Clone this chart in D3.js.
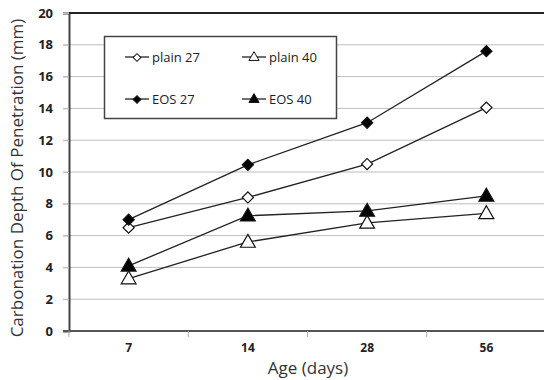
<!DOCTYPE html>
<html>
<head>
<meta charset="utf-8">
<script src="https://cdn.jsdelivr.net/npm/d3@7"></script>
<style>
  body { margin: 0; background: #fff; }
  text { font-family: 'Open Sans', 'Noto Sans', sans-serif; }
</style>
</head>
<body>
<svg id="chart" width="544" height="380"></svg>
<script>
const ages = ['7', '14', '28', '56'];
const yTicks = [0, 2, 4, 6, 8, 10, 12, 14, 16, 18, 20];
const plain27 = [6.5, 8.4, 10.5, 14.05];
const plain40 = [3.3, 5.6, 6.8, 7.4];
const eos27 = [7.0, 10.45, 13.1, 17.6];
const eos40 = [4.1, 7.25, 7.55, 8.5];

const series = [
  { name: 'plain 27', values: plain27, shape: 'diamond', fill: '#fff' },
  { name: 'plain 40', values: plain40, shape: 'triangle', fill: '#fff' },
  { name: 'EOS 27', values: eos27, shape: 'diamond', fill: '#000' },
  { name: 'EOS 40', values: eos40, shape: 'triangle', fill: '#000' },
];

const svg = d3.select('#chart');
const plotLeft = 69;
const plotRight = 546;
const plotTop = 13;
const plotBottom = 331;

const x = d3.scaleBand().domain(ages).range([plotLeft, plotRight]);
const y = d3.scaleLinear().domain([0, 20]).range([plotBottom, plotTop]);

// diamonds = squares turned 45deg, triangles nudged down a little
const markerPath = function markerPath(shape, small) {
  if (shape === 'diamond') {
    return d3.symbol().type(d3.symbolSquare).size(small ? 30 : 62)();
  }
  return d3.symbol().type(d3.symbolTriangle).size(small ? 45 : 95)();
};
const markerTurn = shape => (shape === 'diamond' ? ' rotate(45)' : '');

// gridlines
svg.append('g')
  .selectAll('line')
  .data(yTicks.filter(d => d > 0 && d < 20))
  .enter().append('line')
  .attr('x1', plotLeft - 6)
  .attr('x2', plotRight)
  .attr('y1', d => y(d))
  .attr('y2', d => y(d))
  .attr('stroke', '#bdbdbd')
  .attr('stroke-width', 1);

// y axis
const yAxis = svg.append('g')
  .attr('transform', `translate(${plotLeft},0)`)
  .call(d3.axisLeft(y).tickValues(yTicks).tickSize(6).tickPadding(10));
yAxis.select('.domain').attr('stroke', '#444').attr('stroke-width', 2);
yAxis.selectAll('.tick line').attr('stroke', '#bdbdbd');
yAxis.selectAll('.tick text')
  .attr('font-size', 13)
  .attr('font-weight', 'bold')
  .attr('fill', '#222')
  .style('font-family', "'Open Sans', sans-serif");

// top border
svg.append('line')
  .attr('x1', plotLeft).attr('x2', plotRight)
  .attr('y1', plotTop).attr('y2', plotTop)
  .attr('stroke', '#222').attr('stroke-width', 2);

// x axis
const xAxis = svg.append('g')
  .attr('transform', `translate(0,${plotBottom})`)
  .call(d3.axisBottom(x).tickSize(0).tickPadding(12));
xAxis.select('.domain').remove();
svg.append('line')
  .attr('x1', plotLeft - 6).attr('x2', plotRight)
  .attr('y1', plotBottom).attr('y2', plotBottom)
  .attr('stroke', '#555').attr('stroke-width', 2);
svg.append('g')
  .selectAll('line')
  .data(ages)
  .enter().append('line')
  .attr('x1', d => x(d))
  .attr('x2', d => x(d))
  .attr('y1', plotBottom)
  .attr('y2', plotBottom + 6)
  .attr('stroke', '#aaa');
xAxis.selectAll('.tick text')
  .attr('font-size', 12)
  .attr('font-weight', 'bold')
  .attr('fill', '#222');

// axis titles
svg.append('text')
  .attr('x', 308)
  .attr('y', 374)
  .attr('text-anchor', 'middle')
  .attr('font-size', 17)
  .attr('fill', '#333')
  .text('Age (days)');

svg.append('text')
  .attr('transform', `translate(23,${(plotTop + plotBottom) / 2 + 6}) rotate(-90)`)
  .attr('text-anchor', 'middle')
  .attr('font-size', 17)
  .attr('fill', '#333')
  .text('Carbonation Depth Of Penetration (mm)');

// lines and markers
const line = d3.line()
  .x((d, i) => x(ages[i]) + x.bandwidth() / 2)
  .y(d => y(d));

series.forEach((s) => {
  svg.append('path')
    .attr('d', line(s.values))
    .attr('fill', 'none')
    .attr('stroke', '#222')
    .attr('stroke-width', 1.3);
  svg.append('g')
    .selectAll('path')
    .data(s.values)
    .enter().append('path')
    .attr('d', markerPath(s.shape, false))
    .attr('transform', (d, i) => `translate(${x(ages[i]) + x.bandwidth() / 2},${y(d) + (s.shape === 'triangle' ? 1 : 0)})${markerTurn(s.shape)}`)
    .attr('fill', s.fill)
    .attr('stroke', '#111')
    .attr('stroke-width', 1.2);
});

// legend
const legend = svg.append('g');
legend.append('rect')
  .attr('x', 104.5).attr('y', 36.5)
  .attr('width', 232).attr('height', 82)
  .attr('fill', '#fff')
  .attr('stroke', '#444')
  .attr('stroke-width', 1.5);

const legendPos = [
  { x: 125, y: 57 }, { x: 242, y: 57 },
  { x: 125, y: 99 }, { x: 242, y: 99 },
];

series.forEach((s, i) => {
  const p = legendPos[i];
  const g = legend.append('g').attr('transform', `translate(${p.x},${p.y})`);
  g.append('line')
    .attr('x1', 0).attr('x2', 24)
    .attr('stroke', '#222').attr('stroke-width', 1.3);
  g.append('path')
    .attr('d', markerPath(s.shape, true))
    .attr('transform', `translate(12,0.5)${markerTurn(s.shape)}`)
    .attr('fill', s.fill)
    .attr('stroke', '#111')
    .attr('stroke-width', 1);
  g.append('text')
    .attr('x', 27)
    .attr('y', 5)
    .attr('font-size', 13)
    .attr('fill', '#222')
    .text(s.name);
});
</script>
</body>
</html>
